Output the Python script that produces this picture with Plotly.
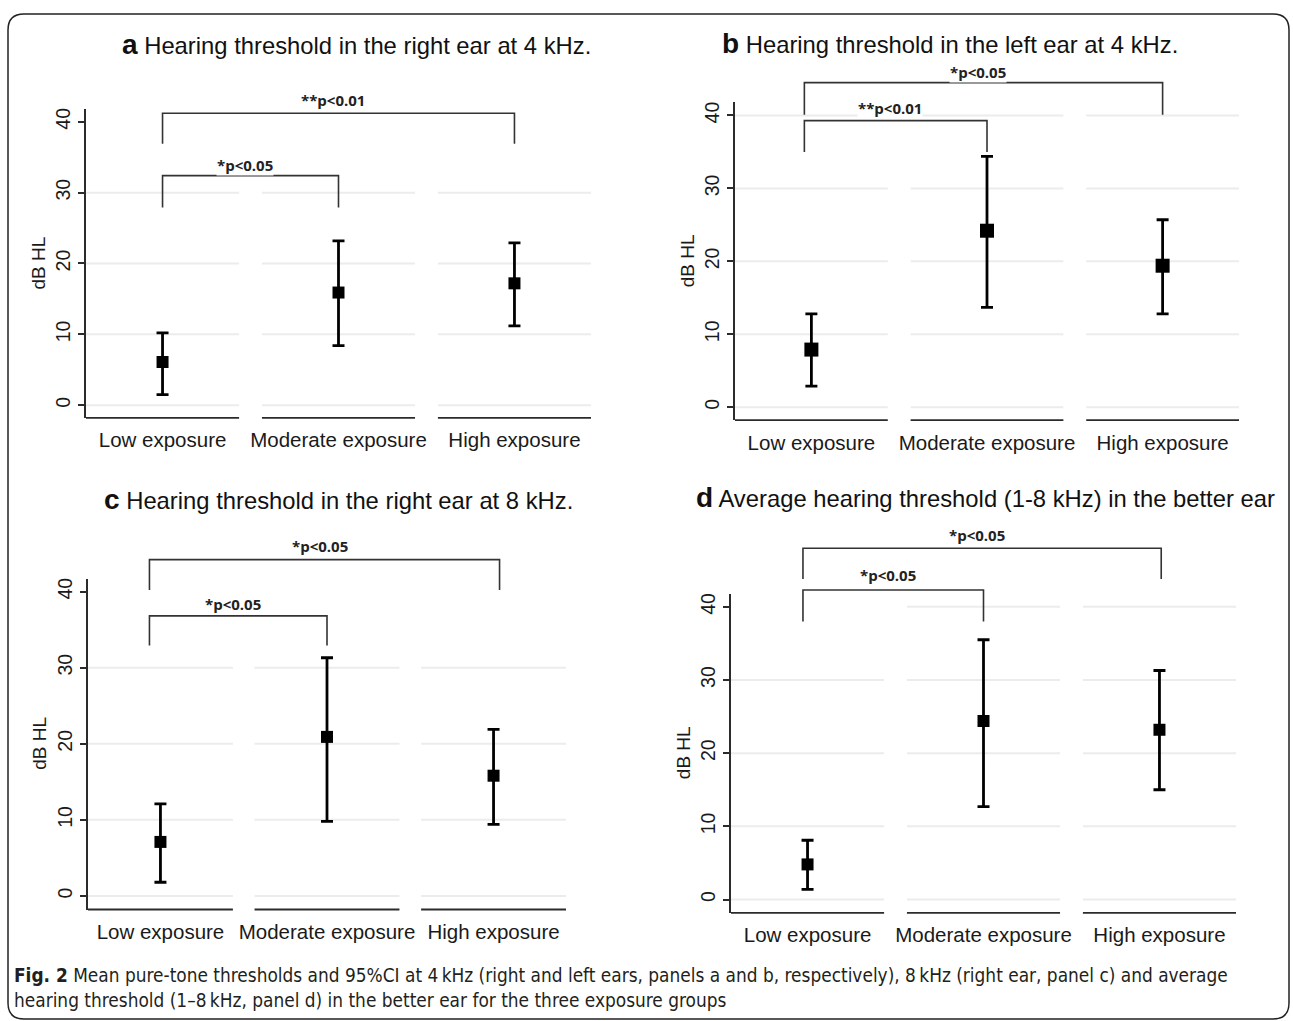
import plotly.graph_objects as go

W, H = 1293, 1021

# ---------------- data ----------------
categories = ["Low exposure", "Moderate exposure", "High exposure"]
ytick_vals = [0, 10, 20, 30, 40]
ytick_text = ["0", "10", "20", "30", "40"]
y_title = "dB HL"

panel_letters = ["a", "b", "c", "d"]
panel_titles = [
    "Hearing threshold in the right ear at 4 kHz.",
    "Hearing threshold in the left ear at 4 kHz.",
    "Hearing threshold in the right ear at 8 kHz.",
    "Average hearing threshold (1-8 kHz) in the better ear",
]

a_mean = [6.1, 15.9, 17.2]
a_lo = [1.5, 8.4, 11.2]
a_hi = [10.2, 23.2, 22.9]

b_mean = [7.9, 24.2, 19.4]
b_lo = [2.9, 13.7, 12.8]
b_hi = [12.8, 34.4, 25.7]

c_mean = [7.1, 20.9, 15.8]
c_lo = [1.8, 9.8, 9.4]
c_hi = [12.1, 31.3, 21.9]

d_mean = [4.8, 24.4, 23.2]
d_lo = [1.4, 12.7, 15.0]
d_hi = [8.1, 35.5, 31.3]

# significance brackets: (from group, to group, label)
a_sig = [(0, 2, "**p<0.01"), (0, 1, "*p<0.05")]
b_sig = [(0, 2, "*p<0.05"), (0, 1, "**p<0.01")]
c_sig = [(0, 2, "*p<0.05"), (0, 1, "*p<0.05")]
d_sig = [(0, 2, "*p<0.05"), (0, 1, "*p<0.05")]

caption_bold = "Fig. 2"
caption_line1 = ("Mean pure-tone thresholds and 95%CI at 4\u2009kHz (right and left ears, panels a and b, "
                 "respectively), 8\u2009kHz (right ear, panel c) and average")
caption_line2 = "hearing threshold (1\u20138\u2009kHz, panel d) in the better ear for the three exposure groups"

series = [
    (a_mean, a_lo, a_hi, a_sig),
    (b_mean, b_lo, b_hi, b_sig),
    (c_mean, c_lo, c_hi, c_sig),
    (d_mean, d_lo, d_hi, d_sig),
]

# ---------------- layout geometry (pixels) ----------------
geo = [
    dict(x0=86, x1=591, y0pix=404.0, y40pix=120.0, bottom=416.7, top=107.3,
         title_x=120, title_y=43, msize=12,
         sig_pos=[(0.0, 0.0, 41.2, 36.9, 43.1), (0.0, 0.0, 32.4, 27.9, 33.9)],
         grid_hide=[(40, 0), (40, 1), (40, 2)]),
    dict(x0=735, x1=1239, y0pix=406.0, y40pix=113.7, bottom=419.0, top=100.0,
         title_x=720, title_y=42, msize=14,
         sig_pos=[(-0.04, 0.0, 44.5, 40.1, 46.0), (-0.04, 0.0, 39.3, 35.0, 41.0)],
         grid_hide=[]),
    dict(x0=88, x1=566, y0pix=895.7, y40pix=590.7, bottom=909.3, top=578.3,
         title_x=102, title_y=498, msize=12,
         sig_pos=[(-0.066, 0.036, 44.2, 40.2, 46.0), (-0.066, 0.0, 36.8, 32.9, 38.4)],
         grid_hide=[(40, 0), (40, 1), (40, 2)]),
    dict(x0=731, x1=1236, y0pix=899.3, y40pix=606.0, bottom=912.7, top=593.3,
         title_x=694, title_y=496, msize=12,
         sig_pos=[(-0.026, 0.01, 48.0, 43.8, 49.8), (-0.026, 0.0, 42.3, 38.0, 44.3)],
         grid_hide=[(40, 0)]),
]

XR = (-0.435, 2.435)
SEG = 0.435
AXC = "#2b2b2b"
GRIDC = "#ececec"
FONT = "Liberation Sans, Arial, sans-serif"

fig = go.Figure()
shapes = []
annotations = []


def yrange(g):
    k = (g["y0pix"] - g["y40pix"]) / 40.0
    return (g["y0pix"] - g["bottom"]) / k, (g["y0pix"] - g["top"]) / k, k


def to_paper(g, xv, yv):
    ymin, ymax, k = yrange(g)
    px = g["x0"] + (xv - XR[0]) / (XR[1] - XR[0]) * (g["x1"] - g["x0"])
    py = g["bottom"] - (yv - ymin) * k
    return px / W, 1 - py / H


for p, (g, (mean, lo, hi, sig)) in enumerate(zip(geo, series)):
    n = "" if p == 0 else str(p + 1)
    ymin, ymax, k = yrange(g)
    xs = list(range(len(categories)))

    fig.add_trace(go.Scatter(
        x=xs, y=mean, mode="markers",
        marker=dict(symbol="square", size=g["msize"], color="black"),
        error_y=dict(type="data", symmetric=False,
                     array=[h - m for h, m in zip(hi, mean)],
                     arrayminus=[m - l for m, l in zip(mean, lo)],
                     color="black", thickness=2.8, width=6),
        xaxis="x" + n, yaxis="y" + n, showlegend=False, cliponaxis=False,
        hoverinfo="skip",
    ))

    fig.layout["xaxis" + n] = dict(
        domain=[g["x0"] / W, g["x1"] / W], range=list(XR), anchor="y" + n,
        tickmode="array", tickvals=xs, ticktext=categories,
        showline=False, showgrid=False, zeroline=False, ticks="",
        tickfont=dict(size=20.5, color="#1a1a1a", family=FONT),
        ticklabelstandoff=8, fixedrange=True,
    )
    fig.layout["yaxis" + n] = dict(
        domain=[1 - g["bottom"] / H, 1 - g["top"] / H], range=[ymin, ymax],
        anchor="x" + n, tickmode="array", tickvals=ytick_vals, ticktext=ytick_text,
        tickangle=-90, ticks="outside", ticklen=6, tickwidth=1.5, tickcolor=AXC,
        showline=True, linecolor=AXC, linewidth=1.8, showgrid=False, zeroline=False,
        tickfont=dict(size=19.5, color="#1a1a1a", family=FONT), fixedrange=True,
    )

    # segmented gridlines and bottom axis segments
    for i in xs:
        xa, _ = to_paper(g, i - SEG, 0)
        xb, _ = to_paper(g, i + SEG, 0)
        for gv in ytick_vals:
            if (gv, i) in g["grid_hide"]:
                continue
            _, yy = to_paper(g, 0, gv)
            shapes.append(dict(type="line", xref="paper", yref="paper", x0=xa, x1=xb,
                               y0=yy, y1=yy, line=dict(color=GRIDC, width=2), layer="below"))
        _, yb = to_paper(g, 0, ymin)
        shapes.append(dict(type="line", xref="paper", yref="paper", x0=xa, x1=xb,
                           y0=yb, y1=yb, line=dict(color=AXC, width=1.8)))

    # significance brackets
    for (i, j, label), (dl, dr, ybar, yleg, ytxt) in zip(sig, g["sig_pos"]):
        xl, ybp = to_paper(g, i + dl, ybar)
        xr, ylp = to_paper(g, j + dr, yleg)
        path = f"M {xl},{ylp} L {xl},{ybp} L {xr},{ybp} L {xr},{ylp}"
        shapes.append(dict(type="path", xref="paper", yref="paper", path=path,
                           line=dict(color="#333333", width=1.6)))
        xm, yt = to_paper(g, (i + dl + j + dr) / 2 - 0.03, ytxt)
        annotations.append(dict(xref="paper", yref="paper", x=xm, y=yt, text="<b>" + label + "</b>",
                                showarrow=False, xanchor="center", yanchor="middle",
                                font=dict(size=15, color="#222222", family="Open Sans, sans-serif"),
                                bgcolor="white", borderpad=0))

    # y-axis title
    _, yt = to_paper(g, 0, 20)
    annotations.append(dict(xref="paper", yref="paper", x=(g["x0"] - 48) / W, y=yt,
                            text=y_title, textangle=-90, showarrow=False,
                            xanchor="center", yanchor="middle",
                            font=dict(size=19, color="#1a1a1a", family=FONT)))

    # panel title
    annotations.append(dict(xref="paper", yref="paper", x=g["title_x"] / W, y=1 - g["title_y"] / H,
                            text=f"<span style='font-size:28px'><b>{panel_letters[p]}</b></span> {panel_titles[p]}",
                            showarrow=False, xanchor="left", yanchor="middle",
                            font=dict(size=23.8, color="#111111", family=FONT)))

# caption
CAPFONT = "Liberation Sans Narrow, DejaVu Sans Condensed, Roboto Condensed, Arial Narrow, Liberation Sans, sans-serif"
annotations.append(dict(xref="paper", yref="paper", x=12 / W, y=1 - 975 / H,
                        text=f"<b>{caption_bold}</b> {caption_line1}", showarrow=False,
                        xanchor="left", yanchor="middle",
                        font=dict(size=18.9, color="#231f20", family=CAPFONT)))
annotations.append(dict(xref="paper", yref="paper", x=12 / W, y=1 - 1000 / H,
                        text=caption_line2, showarrow=False,
                        xanchor="left", yanchor="middle",
                        font=dict(size=18.9, color="#231f20", family=CAPFONT)))

# rounded frame
L, R, T, B = 8 / W, 1289 / W, 1 - 12 / H, 1 - 1019 / H
rx, ry = 16 / W, 16 / H
frame = (f"M {L},{T - ry} Q {L},{T} {L + rx},{T} L {R - rx},{T} Q {R},{T} {R},{T - ry} "
         f"L {R},{B + ry} Q {R},{B} {R - rx},{B} L {L + rx},{B} Q {L},{B} {L},{B + ry} Z")
shapes.append(dict(type="path", xref="paper", yref="paper", path=frame,
                   line=dict(color="#222222", width=1.5), fillcolor="rgba(0,0,0,0)"))

fig.update_layout(
    width=W, height=H, margin=dict(l=0, r=0, t=0, b=0),
    paper_bgcolor="white", plot_bgcolor="white",
    shapes=shapes, annotations=annotations, showlegend=False,
    font=dict(family=FONT, color="#1a1a1a"),
)

fig.write_html("out.html", include_plotlyjs=True, config={"displayModeBar": False},
               post_script="document.body.style.margin='0';document.body.style.overflow='hidden';")
